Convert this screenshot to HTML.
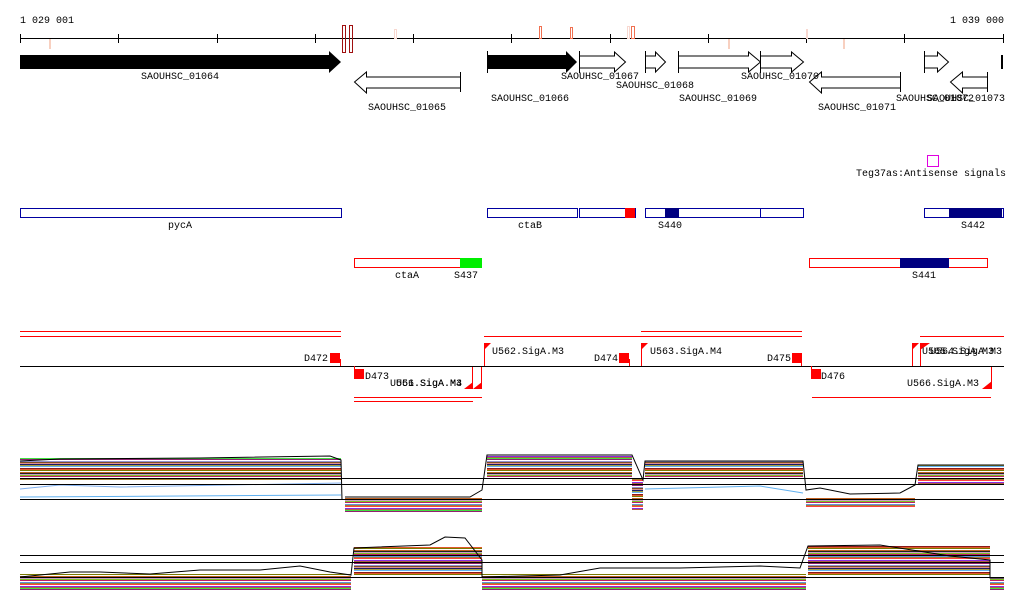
<!DOCTYPE html>
<html><head><style>
body{margin:0;background:#fff}
svg{display:block}
text{font-family:"Liberation Mono",monospace;font-size:10px;fill:#000}
</style></head><body>
<svg width="1024" height="611" viewBox="0 0 1024 611" xmlns="http://www.w3.org/2000/svg">
<defs>
<pattern id="ln" width="40" height="26" patternUnits="userSpaceOnUse">
<rect width="40" height="26" fill="#fff"/>
<rect y="0" width="40" height="1" fill="#8b1a1a"/>
<rect y="1" width="40" height="1" fill="#e2582b"/>
<rect y="2" width="40" height="1" fill="#7a7a00"/>
<rect y="4" width="40" height="1" fill="#c06020"/>
<rect y="5" width="40" height="1" fill="#222"/>
<rect y="6" width="40" height="1" fill="#c8a0c8"/>
<rect y="7" width="40" height="1" fill="#80c020"/>
<rect y="8" width="40" height="1" fill="#c02060"/>
<rect y="10" width="40" height="1" fill="#6090e0"/>
<rect y="11" width="40" height="1" fill="#a08030"/>
<rect y="12" width="40" height="1" fill="#ff4040"/>
<rect y="14" width="40" height="1" fill="#8a2be2"/>
<rect y="15" width="40" height="1" fill="#b06040"/>
<rect y="16" width="40" height="1" fill="#40e040"/>
<rect y="17" width="40" height="1" fill="#902070"/>
<rect y="19" width="40" height="1" fill="#9090d0"/>
<rect y="20" width="40" height="1" fill="#805020"/>
<rect y="21" width="40" height="1" fill="#e09090"/>
<rect y="22" width="40" height="1" fill="#1a1a6a"/>
<rect y="23" width="40" height="1" fill="#a0a040"/>
<rect y="24" width="40" height="1" fill="#60b0f0"/>
</pattern>
</defs>

<!-- ruler -->
<text x="20" y="23">1 029 001</text>
<text x="1004" y="23" text-anchor="end">1 039 000</text>
<line x1="20" y1="38.5" x2="1004" y2="38.5" stroke="#000"/>
<g stroke="#000">
<line x1="20.5" y1="34" x2="20.5" y2="43"/><line x1="118.5" y1="34" x2="118.5" y2="43"/><line x1="217.5" y1="34" x2="217.5" y2="43"/><line x1="315.5" y1="34" x2="315.5" y2="43"/><line x1="413.5" y1="34" x2="413.5" y2="43"/><line x1="511.5" y1="34" x2="511.5" y2="43"/><line x1="610.5" y1="34" x2="610.5" y2="43"/><line x1="708.5" y1="34" x2="708.5" y2="43"/><line x1="806.5" y1="34" x2="806.5" y2="43"/><line x1="904.5" y1="34" x2="904.5" y2="43"/><line x1="1003.5" y1="34" x2="1003.5" y2="43"/>
</g>
<g fill="none">
<rect x="342.5" y="25.5" width="3" height="27" stroke="#a01010"/>
<rect x="349.5" y="25.5" width="3" height="27" stroke="#a01010"/>
<rect x="49.5" y="39.5" width="1" height="9" stroke="#f8d0c0"/>
<rect x="394.5" y="29.5" width="2" height="9" stroke="#f8d8d0"/>
<rect x="539.5" y="26.5" width="2" height="12" stroke="#f07050"/>
<rect x="570.5" y="27.5" width="2" height="11" stroke="#f07050"/>
<rect x="627.5" y="26.5" width="2" height="12" stroke="#f8d8d0"/>
<rect x="631.5" y="26.5" width="3" height="12" stroke="#f07050"/>
<rect x="728.5" y="39.5" width="1" height="9" stroke="#f8d0c0"/>
<rect x="806.5" y="29.5" width="1" height="9" stroke="#f8d8d0"/>
<rect x="843.5" y="39.5" width="1" height="9" stroke="#f8d0c0"/>
</g>

<!-- genes -->
<polygon points="20,55 329,55 329,51 341,62 329,73 329,69 20,69" fill="#000"/>
<text x="180" y="79" text-anchor="middle">SAOUHSC_01064</text>
<polygon points="487,55 566,55 566,51 577,62 566,73 566,69 487,69" fill="#000"/>
<line x1="487.5" y1="51" x2="487.5" y2="73" stroke="#000"/>
<text x="530" y="101" text-anchor="middle">SAOUHSC_01066</text>
<g fill="#fff" stroke="#000">
<polygon points="460.5,72 460.5,92 460.5,88 366.5,88 366.5,93 354.5,82 366.5,72 366.5,77 460.5,77 460.5,72"/>
<polygon points="579.5,51 579.5,73 579.5,68 614.5,68 614.5,72 625.5,62 614.5,52 614.5,56 579.5,56"/>
<polygon points="645.5,51 645.5,73 645.5,68 655.5,68 655.5,72 665.5,62 655.5,52 655.5,56 645.5,56"/>
<polygon points="678.5,51 678.5,73 678.5,68 748.5,68 748.5,72 760.5,62 748.5,52 748.5,56 678.5,56"/>
<polygon points="760.5,51 760.5,73 760.5,68 791.5,68 791.5,72 803.5,62 791.5,52 791.5,56 760.5,56"/>
<polygon points="900.5,72 900.5,92 900.5,88 821.5,88 821.5,93 809.5,82 821.5,72 821.5,77 900.5,77"/>
<polygon points="924.5,51 924.5,73 924.5,68 937.5,68 937.5,72 948.5,62 937.5,52 937.5,56 924.5,56"/>
<polygon points="987.5,72 987.5,92 987.5,88 962.5,88 962.5,93 950.5,82 962.5,72 962.5,77 987.5,77"/>
<rect x="1001.5" y="55.5" width="1" height="13"/>
</g>
<text x="407" y="110" text-anchor="middle">SAOUHSC_01065</text>
<text x="600" y="79" text-anchor="middle">SAOUHSC_01067</text>
<text x="655" y="88" text-anchor="middle">SAOUHSC_01068</text>
<text x="718" y="101" text-anchor="middle">SAOUHSC_01069</text>
<text x="780" y="79" text-anchor="middle">SAOUHSC_01070</text>
<text x="857" y="110" text-anchor="middle">SAOUHSC_01071</text>
<text x="935" y="101" text-anchor="middle">SAOUHSC_01072</text>
<text x="966" y="101" text-anchor="middle">SAOUHSC_01073</text>

<!-- antisense -->
<rect x="927.5" y="155.5" width="11" height="11" fill="none" stroke="#e000e0"/>
<text x="1006" y="176" text-anchor="end">Teg37as:Antisense signals</text>

<!-- blue boxes -->
<g fill="none" stroke="#0000a0">
<rect x="20.5" y="208.5" width="321" height="9"/>
<rect x="487.5" y="208.5" width="90" height="9"/>
<rect x="579.5" y="208.5" width="56" height="9"/>
<rect x="645.5" y="208.5" width="158" height="9"/>
<rect x="924.5" y="208.5" width="79" height="9"/>
</g>
<rect x="625" y="208" width="10" height="10" fill="#ff0000"/>
<rect x="665" y="208" width="14" height="10" fill="#000080"/>
<line x1="760.5" y1="208" x2="760.5" y2="218" stroke="#0000a0"/>
<rect x="949" y="208" width="53" height="10" fill="#000080"/>
<text x="180" y="228" text-anchor="middle">pycA</text>
<text x="530" y="228" text-anchor="middle">ctaB</text>
<text x="670" y="228" text-anchor="middle">S440</text>
<text x="973" y="228" text-anchor="middle">S442</text>

<!-- red boxes -->
<g fill="none" stroke="#ff0000">
<rect x="354.5" y="258.5" width="127" height="9"/>
<rect x="809.5" y="258.5" width="178" height="9"/>
</g>
<rect x="460" y="258" width="22" height="10" fill="#00ee00"/>
<rect x="900" y="258" width="49" height="10" fill="#000080"/>
<text x="407" y="278" text-anchor="middle">ctaA</text>
<text x="466" y="278" text-anchor="middle">S437</text>
<text x="924" y="278" text-anchor="middle">S441</text>

<!-- promoter track -->
<g fill="#ff0000">
<rect x="20" y="331" width="321" height="1"/><rect x="20" y="336" width="321" height="1"/>
<rect x="484" y="336" width="318" height="1"/><rect x="641" y="331" width="161" height="1"/>
<rect x="920" y="336" width="84" height="1"/>
<rect x="354" y="397" width="128" height="1"/><rect x="354" y="401" width="119" height="1"/>
<rect x="812" y="397" width="179" height="1"/>
</g>
<rect x="20" y="366" width="984" height="1" fill="#000"/>
<g fill="#ff0000">
<rect x="330" y="353" width="10" height="10"/><rect x="340" y="359" width="1" height="7"/>
<rect x="354" y="369" width="10" height="10"/><rect x="354" y="366" width="1" height="4"/>
<rect x="619" y="353" width="10" height="10"/><rect x="629" y="359" width="1" height="7"/>
<rect x="792" y="353" width="10" height="10"/><rect x="801" y="359" width="1" height="7"/>
<rect x="811" y="369" width="10" height="10"/><rect x="811" y="366" width="1" height="4"/>
<rect x="484" y="343" width="1" height="23"/><polygon points="484,343 491,343 484,350"/>
<rect x="641" y="343" width="1" height="23"/><polygon points="641,343 648,343 641,350"/>
<rect x="912" y="343" width="1" height="23"/><polygon points="912,343 919,343 912,350"/>
<rect x="920" y="343" width="1" height="23"/><polygon points="920,343 930,343 920,350"/>
<rect x="472" y="367" width="1" height="22"/><polygon points="464,389 473,389 473,382"/>
<rect x="481" y="367" width="1" height="22"/><polygon points="473,389 482,389 482,382"/>
<rect x="991" y="367" width="1" height="22"/><polygon points="982,389 992,389 992,381"/>
</g>
<text x="304" y="361">D472</text>
<text x="365" y="379">D473</text>
<text x="390" y="386">U561.SigA.M3</text>
<text x="396" y="386">U56.SigA.M4</text>
<text x="492" y="354">U562.SigA.M3</text>
<text x="594" y="361">D474</text>
<text x="650" y="354">U563.SigA.M4</text>
<text x="767" y="361">D475</text>
<text x="821" y="379">D476</text>
<text x="922" y="354">U565.SigA.M3</text>
<text x="930" y="354">U564.SigA.M3</text>
<text x="907" y="386">U566.SigA.M3</text>

<!-- upper expression plot -->
<g fill="url(#ln)">
<rect x="20" y="458" width="321" height="22"/>
<rect x="345" y="497" width="137" height="15"/>
<rect x="487" y="455" width="145" height="24"/>
<rect x="632" y="478" width="11" height="32"/>
<rect x="645" y="461" width="158" height="18"/>
<rect x="806" y="497" width="109" height="11"/>
<rect x="918" y="465" width="86" height="20"/>
</g>
<g fill="none" stroke-width="1">
<polyline points="20,461 60,459 200,458 330,456 341,460 342,500" stroke="#000"/>
<polyline points="20,489 60,485 120,487 341,483" stroke="#80b0f0"/>
<polyline points="20,497 341,495" stroke="#60b0f0"/>
<polyline points="345,497 470,497 482,490 487,455 632,455 643,480 645,461 803,461 806,490 820,488 850,494 900,493 915,485 918,465 1004,465" stroke="#000"/>
<polyline points="645,489 760,486 803,493" stroke="#60b0f0"/>
</g>
<g fill="#000">
<rect x="20" y="478" width="984" height="1"/>
<rect x="20" y="484" width="984" height="1"/>
<rect x="20" y="499" width="984" height="1"/>
</g>

<!-- lower expression plot -->
<g fill="url(#ln)">
<rect x="20" y="574" width="331" height="16"/>
<rect x="354" y="547" width="128" height="28"/>
<rect x="482" y="574" width="324" height="16"/>
<rect x="808" y="546" width="182" height="30"/>
<rect x="990" y="578" width="14" height="12"/>
</g>
<g fill="none">
<polyline points="20,577 70,572 100,572 150,574 200,570 260,570 300,566 330,572 351,575 354,548 430,545 445,537 465,538 482,560 482,577 560,575 600,568 680,568 760,566 800,568 808,546 880,545 950,556 990,560 990,578 1004,578" stroke="#000"/>
</g>
<g fill="#000">
<rect x="20" y="555" width="984" height="1"/>
<rect x="20" y="562" width="984" height="1"/>
<rect x="20" y="577" width="984" height="1"/>
</g>
</svg>
</body></html>
